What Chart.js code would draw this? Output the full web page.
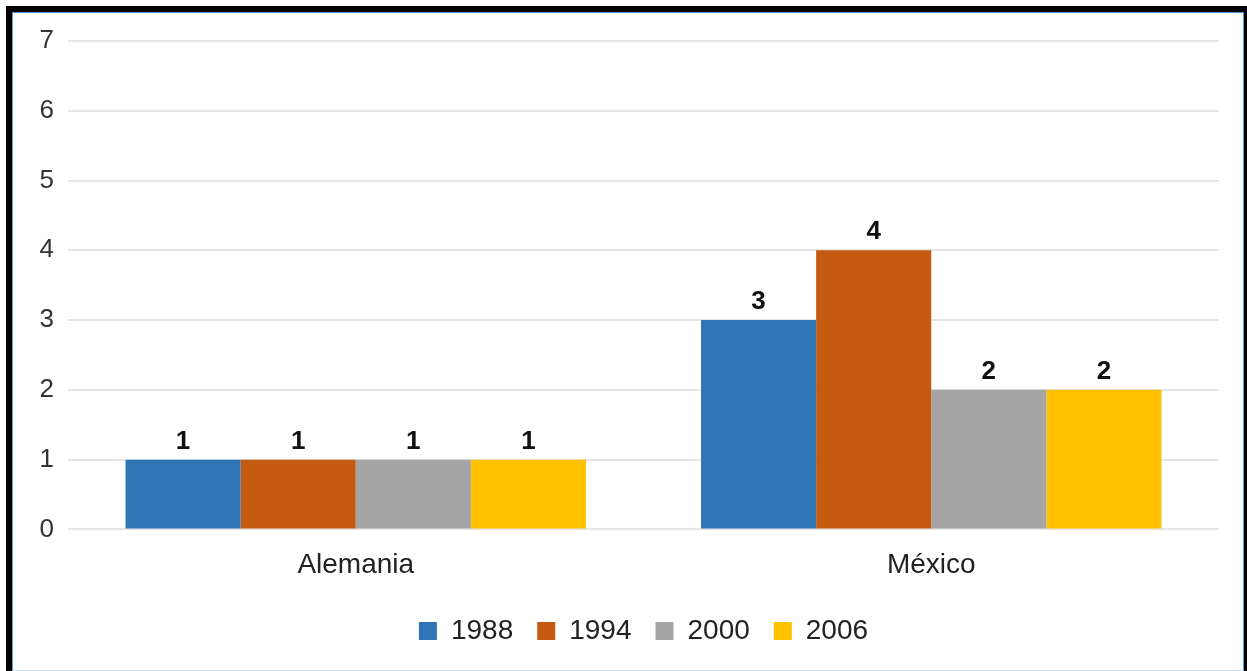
<!DOCTYPE html>
<html>
<head>
<meta charset="utf-8">
<script src="https://cdn.jsdelivr.net/npm/chart.js@4.4.1/dist/chart.umd.min.js"></script>
<style>
  html, body { margin: 0; padding: 0; background: #fff; }
  body { width: 1247px; height: 671px; position: relative; overflow: hidden; }
  #wrap { position: absolute; left: 0; top: 0; width: 1247px; height: 671px; }
  #frame {
    position: absolute; left: 6px; top: 6px; width: 1232px; height: 680px;
    border-left: 6px solid #000; border-top: 6px solid #000; border-right: 3px solid #000;
    pointer-events: none;
  }
  #inner {
    position: absolute; left: 0; top: 0; right: 0; height: 657px;
    border: 1px solid #5b9bd5; border-bottom-color: #c9dcf0;
  }
</style>
</head>
<body>
<div id="wrap"><canvas id="chart" width="1247" height="671"></canvas></div>
<div id="frame"><div id="inner"></div></div>
<script>
const countries = ["Alemania", "México"];
const years = ["1988", "1994", "2000", "2006"];
const v1988 = [1, 3];
const v1994 = [1, 4];
const v2000 = [1, 2];
const v2006 = [1, 2];
const yTicks = [0, 1, 2, 3, 4, 5, 6, 7];

const colors = ["#2e75b6", "#c55a11", "#a5a5a5", "#ffc000"];
const font = "'Liberation Sans', Arial, sans-serif";

// value labels above each bar
const barLabels = {
    id: "barLabels",
    afterDatasetsDraw(chart) {
        const ctx = chart.ctx;
        ctx.save();
        ctx.font = "bold 26px " + font;
        ctx.fillStyle = "#111";
        ctx.textAlign = "center";
        ctx.textBaseline = "bottom";
        chart.data.datasets.forEach((ds, i) => {
            chart.getDatasetMeta(i).data.forEach((bar, j) => {
                ctx.fillText(ds.data[j], bar.x, bar.y - 5);
            });
        });
        ctx.restore();
    }
};

new Chart(document.getElementById("chart"), {
    type: "bar",
    data: {
        labels: countries,
        datasets: [v1988, v1994, v2000, v2006].map((d, i) => ({
            label: years[i],
            data: d,
            backgroundColor: colors[i],
            borderWidth: 0,
            categoryPercentage: 0.8,
            barPercentage: 1.0
        }))
    },
    options: {
        responsive: false,
        animation: false,
        layout: { padding: { top: 41, right: 28, left: 0, bottom: 16 } },
        plugins: {
            tooltip: { enabled: false },
            legend: {
                position: "bottom",
                fullSize: false,
                labels: {
                    font: { family: font, size: 28 },
                    color: "#222",
                    boxWidth: 18,
                    boxHeight: 18,
                    padding: 24
                }
            }
        },
        scales: {
            x: {
                grid: { display: false },
                border: { display: false },
                ticks: { font: { family: font, size: 28 }, color: "#222", padding: 11 }
            },
            y: {
                min: 0,
                max: 7,
                afterBuildTicks(axis) { axis.ticks = yTicks.map(v => ({ value: v })); },
                afterFit(axis) { axis.width = 68; },
                grid: { color: "#e6e6e6", lineWidth: 2, drawTicks: false },
                border: { display: false },
                ticks: { font: { family: font, size: 26 }, color: "#333", padding: 14 }
            }
        }
    },
    plugins: [barLabels]
});
</script>
</body>
</html>
